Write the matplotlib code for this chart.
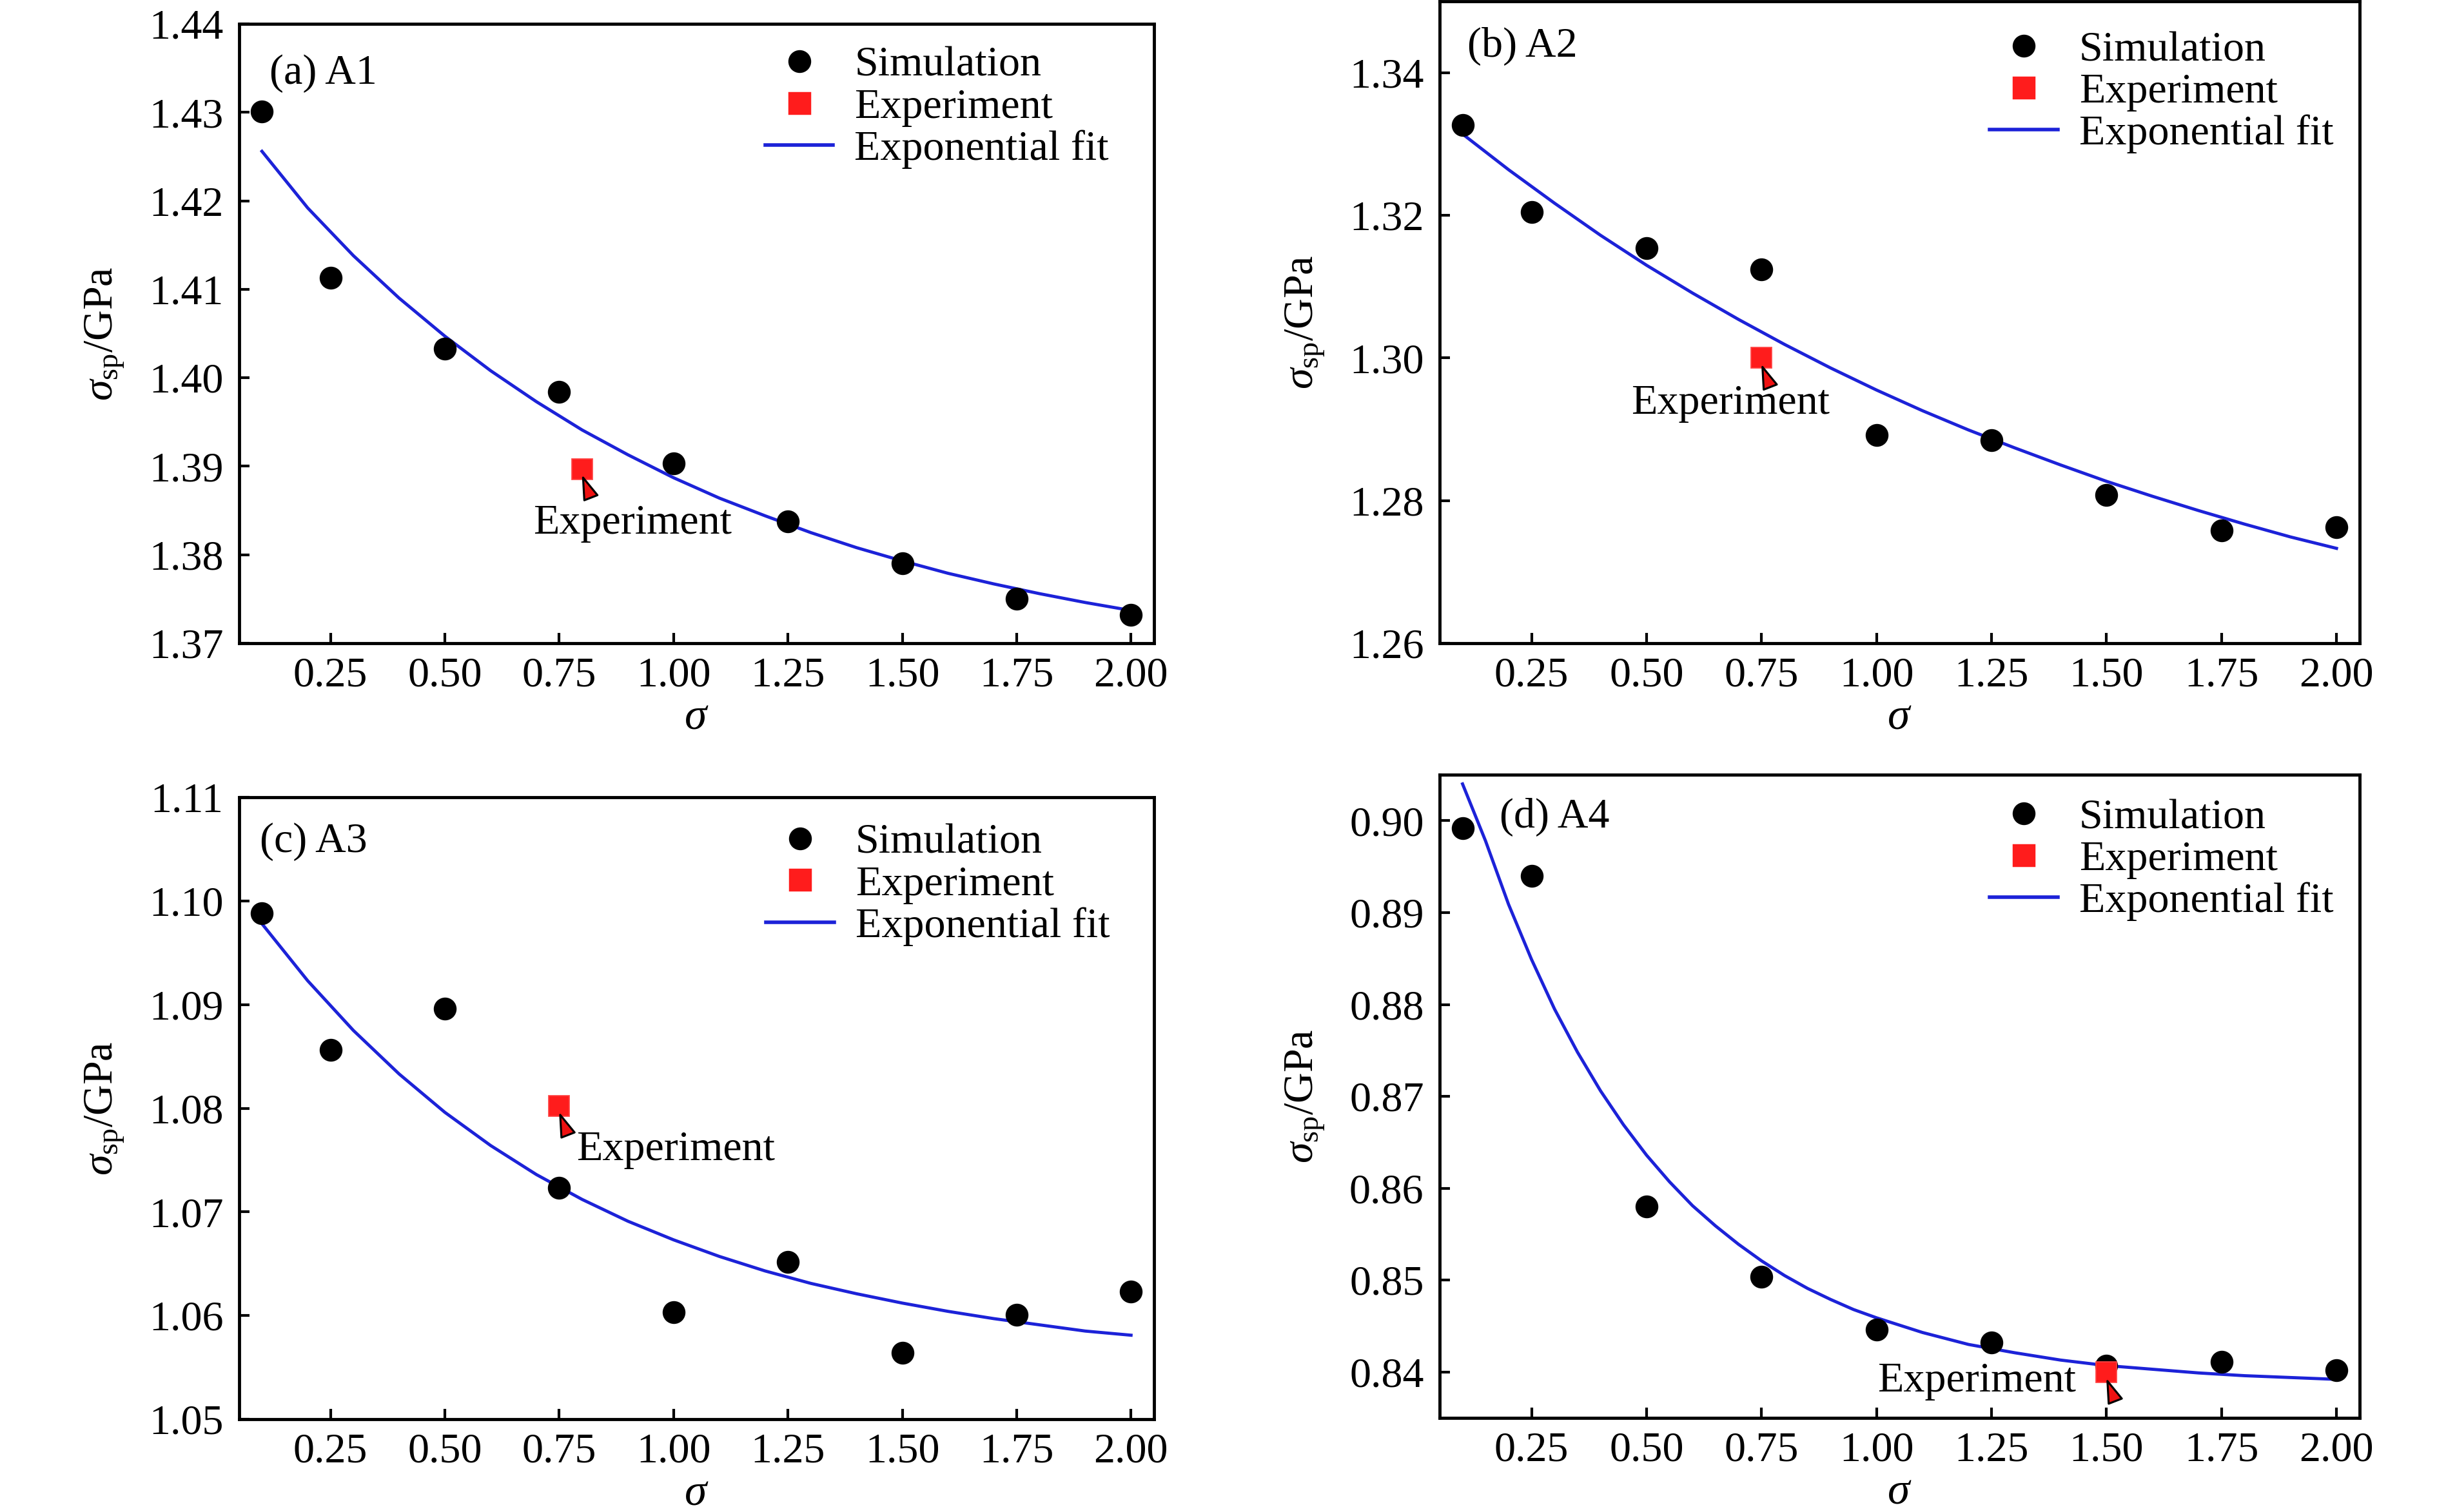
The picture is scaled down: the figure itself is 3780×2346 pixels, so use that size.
import matplotlib
matplotlib.use("Agg")
import matplotlib.pyplot as plt
from matplotlib.lines import Line2D
from matplotlib.ticker import FormatStrFormatter

plt.rcParams['font.family'] = ['Liberation Serif', 'DejaVu Serif']
plt.rcParams['mathtext.fontset'] = 'custom'
plt.rcParams['mathtext.rm'] = 'Liberation Serif'
plt.rcParams['mathtext.it'] = 'Liberation Serif:italic'
plt.rcParams['mathtext.bf'] = 'Liberation Serif:bold'

# ---------------- data ----------------
x_sigma = [0.1, 0.25, 0.5, 0.75, 1.0, 1.25, 1.5, 1.75, 2.0]

sim_a = [1.4301, 1.4113, 1.4033, 1.3984, 1.3903, 1.3838, 1.3790, 1.3750, 1.3732]
sim_b = [1.3327, 1.3205, 1.3154, 1.3124, 1.2892, 1.2885, 1.2808, 1.2758, 1.2763]
sim_c = [1.0988, 1.0856, 1.0896, 1.0723, 1.0603, 1.0652, 1.0564, 1.0601, 1.0623]
sim_d = [0.8992, 0.8940, 0.8580, 0.8504, 0.8446, 0.8432, 0.8407, 0.8411, 0.8402]

exp_x = [0.80, 0.75, 0.75, 1.50]
exp_y = [1.3897, 1.3000, 1.0802, 0.8400]

fit_x = [0.1, 0.2, 0.3, 0.4, 0.5, 0.6, 0.7, 0.8, 0.9, 1.0,
         1.1, 1.2, 1.3, 1.4, 1.5, 1.6, 1.7, 1.8, 1.9, 2.0]
fit_a = [1.4256, 1.4192, 1.4138, 1.4090, 1.4047, 1.4008, 1.3973, 1.3941, 1.3913, 1.3887,
         1.3864, 1.3844, 1.3825, 1.3808, 1.3793, 1.3779, 1.3767, 1.3756, 1.3746, 1.3737]
fit_b = [1.3314, 1.3264, 1.3217, 1.3172, 1.3130, 1.3091, 1.3054, 1.3019, 1.2986, 1.2955,
         1.2926, 1.2899, 1.2874, 1.2850, 1.2827, 1.2806, 1.2786, 1.2767, 1.2749, 1.2733]
fit_c = [1.0978, 1.0923, 1.0875, 1.0833, 1.0796, 1.0764, 1.0736, 1.0712, 1.0691, 1.0673,
         1.0657, 1.0643, 1.0631, 1.0621, 1.0612, 1.0604, 1.0597, 1.0591, 1.0585, 1.0581]
fit_x_d = [0.10, 0.15, 0.20, 0.25, 0.30, 0.35, 0.40, 0.45, 0.50, 0.55, 0.60, 0.65, 0.70,
           0.75, 0.80, 0.85, 0.90, 0.95, 1.00, 1.1, 1.2, 1.3, 1.4, 1.5, 1.6, 1.7, 1.8, 1.9, 2.0]
fit_d = [0.9040, 0.8978, 0.8909, 0.8849, 0.8795, 0.8748, 0.8706, 0.8669, 0.8636, 0.8607,
         0.8581, 0.8559, 0.8539, 0.8521, 0.8505, 0.8491, 0.8479, 0.8468, 0.8459, 0.8443,
         0.8430, 0.8421, 0.8413, 0.8407, 0.8403, 0.8399, 0.8396, 0.8394, 0.8392]

panel_labels = ['(a) A1', '(b) A2', '(c) A3', '(d) A4']
xticks = [0.25, 0.50, 0.75, 1.00, 1.25, 1.50, 1.75, 2.00]
yticks_a = [1.37, 1.38, 1.39, 1.40, 1.41, 1.42, 1.43, 1.44]
yticks_b = [1.26, 1.28, 1.30, 1.32, 1.34]
yticks_c = [1.05, 1.06, 1.07, 1.08, 1.09, 1.10, 1.11]
yticks_d = [0.84, 0.85, 0.86, 0.87, 0.88, 0.89, 0.90]
ylims = [(1.37, 1.44), (1.26, 1.35), (1.05, 1.11), (0.835, 0.905)]
legend_labels = ['Simulation', 'Experiment', 'Exponential fit']

# ---------------- layout ----------------
FS = 19
fig = plt.figure(figsize=(15.12, 9.384), dpi=250)
rects = [
    [0.0981, 0.5746, 0.3754, 0.4096],
    [0.5907, 0.5746, 0.3775, 0.4245],
    [0.0981, 0.0614, 0.3754, 0.4113],
    [0.5907, 0.0622, 0.3775, 0.4254],
]
label_pos = [(0.033, 0.92), (0.030, 0.93), (0.023, 0.928), (0.065, 0.934)]
legend_anchor = [(0.575, 0.964), (0.598, 0.954), (0.576, 0.958), (0.598, 0.963)]
text_pos = [(0.910, 1.3835), (0.683, 1.2936), (1.005, 1.0760), (1.218, 0.8390)]

sims = [sim_a, sim_b, sim_c, sim_d]
fits_x = [fit_x, fit_x, fit_x, fit_x_d]
fits_y = [fit_a, fit_b, fit_c, fit_d]
yticks_all = [yticks_a, yticks_b, yticks_c, yticks_d]

FIT_COLOR = '#1c22d8'
EXP_COLOR = '#ff1c1c'

for i in range(4):
    ax = fig.add_axes(rects[i])
    ax.plot(fits_x[i], fits_y[i], color=FIT_COLOR, lw=1.4, zorder=2)
    ax.plot(x_sigma, sims[i], 'o', color='black', ms=9.2, zorder=3)
    ax.plot([exp_x[i]], [exp_y[i]], 's', color=EXP_COLOR, mec='#ff4444', mew=0.5,
            ms=9, zorder=4)
    # small red pointer below the experiment marker
    y0, y1 = ylims[i]
    dy = (y1 - y0)
    ax.annotate('', xy=(exp_x[i] + 0.002, exp_y[i] - 0.014 * dy),
                xytext=(3.5, -9), textcoords='offset points',
                arrowprops=dict(arrowstyle='wedge,tail_width=0.35,shrink_factor=0.5',
                                mutation_scale=18, fc='#ee1111', ec='black', lw=0.9,
                                shrinkA=0, shrinkB=0),
                zorder=5)
    ax.text(text_pos[i][0], text_pos[i][1], 'Experiment', fontsize=FS,
            ha='center', va='center', zorder=6)

    ax.set_xlim(0.05, 2.05)
    ax.set_ylim(*ylims[i])
    ax.set_xticks(xticks)
    ax.set_yticks(yticks_all[i])
    ax.xaxis.set_major_formatter(FormatStrFormatter('%.2f'))
    ax.yaxis.set_major_formatter(FormatStrFormatter('%.2f'))
    ax.tick_params(direction='in', length=4.5, width=1.2, labelsize=FS,
                   top=False, right=False)
    ax.tick_params(axis='x', pad=6)
    ax.tick_params(axis='y', pad=7)
    for s in ax.spines.values():
        s.set_linewidth(1.4)
    ax.set_xlabel(r'$\sigma$', fontsize=FS + 1, labelpad=1)
    ax.set_ylabel(r'$\sigma_{\mathrm{sp}}$/GPa', fontsize=FS, labelpad=10)

    ax.text(label_pos[i][0], label_pos[i][1], panel_labels[i], transform=ax.transAxes,
            fontsize=FS, ha='left', va='center')

    handles = [
        Line2D([], [], marker='o', ls='none', color='black', ms=9.2),
        Line2D([], [], marker='s', ls='none', color=EXP_COLOR, ms=9),
        Line2D([], [], color=FIT_COLOR, lw=1.6),
    ]
    ax.legend(handles, legend_labels, loc='upper left', bbox_to_anchor=legend_anchor[i],
              frameon=False, fontsize=FS, handlelength=1.6, handletextpad=0.5,
              labelspacing=0.07, borderaxespad=0.0, borderpad=0.0)

fig.savefig('out.png', dpi=250)
